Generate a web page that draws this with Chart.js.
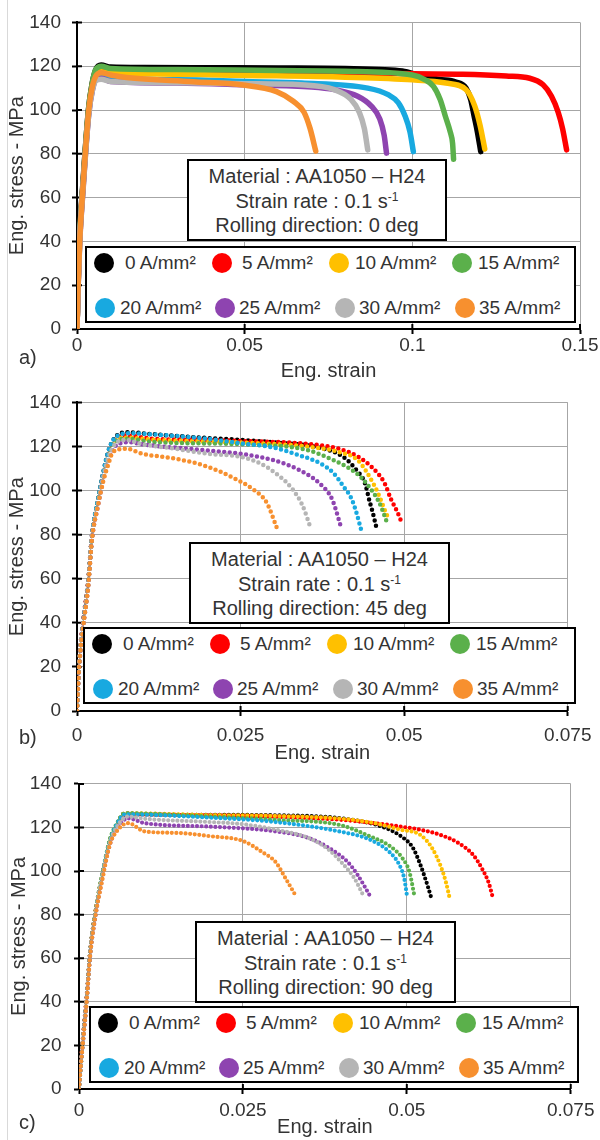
<!DOCTYPE html>
<html><head><meta charset="utf-8">
<script src="https://cdn.jsdelivr.net/npm/chart.js@4.4.1/dist/chart.umd.min.js"></script>
<style>
html,body{margin:0;padding:0;background:#fff;}
body{width:600px;height:1140px;position:relative;overflow:hidden;font-family:"Liberation Sans",Arial,sans-serif;color:#333;}
canvas{position:absolute;left:0;}
.frame{position:absolute;left:7px;top:0;width:1px;height:1140px;background:#d9d9d9;}
.note{position:absolute;box-sizing:border-box;border:2px solid #000;background:#fff;text-align:center;font-size:20px;line-height:24.5px;padding-top:3px;white-space:nowrap;}
.note sup{font-size:12px;line-height:0;vertical-align:0.6em;}
.leg{position:absolute;box-sizing:border-box;border:2px solid #000;background:#fff;font-size:19px;}
.leg .dot{position:absolute;width:20px;height:20px;border-radius:50%;}
.leg .lbl{position:absolute;line-height:20px;white-space:nowrap;}
.tag{position:absolute;font-size:20px;line-height:20px;}
</style></head>
<body>
<div class="frame"></div>
<canvas id="ca" width="600" height="385" style="top:0px"></canvas>
<canvas id="cb" width="600" height="385" style="top:380px"></canvas>
<canvas id="cc" width="600" height="380" style="top:760px"></canvas>
<script>
// ---------- labels ----------
const seriesLabels = ['0 A/mm²','5 A/mm²','10 A/mm²','15 A/mm²','20 A/mm²','25 A/mm²','30 A/mm²','35 A/mm²'];
const stressTicks = ['0','20','40','60','80','100','120','140'];
const strainTicksA = ['0','0.05','0.1','0.15'];
const strainTicksBC = ['0','0.025','0.05','0.075'];
const panelTags = ['a)','b)','c)'];
const noteMaterial = 'Material : AA1050 – H24';
const noteRate = 'Strain rate : 0.1 s';
const noteRateSup = '-1';
const noteDirections = ['Rolling direction: 0 deg','Rolling direction: 45 deg','Rolling direction: 90 deg'];
const xTitle = 'Eng. strain';
const yTitle = 'Eng. stress - MPa';

// ---------- panel a) rolling direction 0 deg : [strain, stress MPa] ----------
const a0 = [[0,0],[0.0003,20],[0.0007,41],[0.0016,63],[0.0034,100],[0.0045,112],[0.0056,118.5],[0.0072,120.5],[0.01,119.6],[0.02,119.4],[0.04,119.3],[0.06,119.2],[0.08,119],[0.09,118.5],[0.097,117.8],[0.103,115.5],[0.108,114],[0.113,112.8],[0.116,110],[0.1174,104.8],[0.1184,97.4],[0.1194,90],[0.1204,81]];
const a1 = [[0,0],[0.0003,19],[0.0008,42],[0.0017,64],[0.0035,100],[0.0046,112],[0.0057,117.5],[0.0072,118.5],[0.01,118],[0.03,117.5],[0.06,117.2],[0.09,116.8],[0.1,116.5],[0.115,116.3],[0.128,115.5],[0.135,114.5],[0.139,111.5],[0.1415,106.3],[0.1435,98.9],[0.1448,91.5],[0.146,81.8]];
const a2 = [[0,0],[0.0003,18],[0.0008,40],[0.0017,62],[0.0035,99],[0.0046,111],[0.0057,116.5],[0.0072,117.5],[0.01,117],[0.03,116.3],[0.05,115.8],[0.08,115],[0.1,113.8],[0.11,112.3],[0.116,109.3],[0.1186,101.9],[0.1202,93],[0.1216,82.2]];
const a3 = [[0,0],[0.0003,20],[0.0007,40],[0.0016,62],[0.0034,100],[0.0045,112],[0.0056,118.5],[0.0073,120],[0.01,119],[0.03,118.5],[0.06,118],[0.08,117.7],[0.1,116],[0.1038,113.8],[0.1063,110.8],[0.1083,104.8],[0.1098,97.4],[0.1113,90],[0.112,84.8],[0.1123,77.5]];
const a4 = [[0,0],[0.0003,19],[0.0008,41],[0.0017,63],[0.0035,99],[0.0046,110],[0.0057,115],[0.0072,116],[0.01,114.5],[0.03,113.8],[0.05,113],[0.067,112.3],[0.0867,110],[0.0928,107],[0.0958,103.4],[0.0978,97.4],[0.0993,90],[0.1003,81]];
const a5 = [[0,0],[0.0003,17],[0.0008,39],[0.0017,61],[0.0035,98],[0.0046,109],[0.0057,114],[0.0072,114.5],[0.01,113],[0.03,112.3],[0.05,111.5],[0.07,110.5],[0.0767,109.3],[0.0837,106.3],[0.0877,101.9],[0.0903,95.9],[0.0916,88.5],[0.0923,80.3]];
const a6 = [[0,0],[0.0003,18],[0.0008,40],[0.0017,62],[0.0035,98],[0.0046,109],[0.0057,113.5],[0.0072,114],[0.01,113],[0.03,112.4],[0.05,112],[0.0667,111.5],[0.0767,109.3],[0.0817,104.8],[0.0842,98.9],[0.0857,91.5],[0.0867,81.8]];
const a7 = [[0,0],[0.0003,19],[0.0008,40],[0.0017,63],[0.0035,100],[0.0046,111],[0.0056,115.5],[0.0072,117],[0.01,116],[0.0148,114.8],[0.0347,112.9],[0.0496,111.4],[0.0595,108.4],[0.0645,104],[0.0677,99],[0.0695,91.6],[0.0712,81.2]];

// ---------- panel b) rolling direction 45 deg ----------
const b0 = [[0,0],[0.0003,20],[0.0009,39],[0.0017,58],[0.0023,80],[0.0032,96],[0.004,108],[0.0048,118],[0.0058,124],[0.0075,126.5],[0.0115,125.6],[0.019,124],[0.025,123],[0.0316,121.5],[0.0367,119.7],[0.0407,115.3],[0.0427,109.3],[0.044,103.4],[0.0447,95.3],[0.0452,90],[0.0458,82.7]];
const b1 = [[0,0],[0.0003,21],[0.0009,40],[0.0017,59],[0.0023,80],[0.0032,95],[0.004,107],[0.0048,117],[0.0058,123],[0.0075,125],[0.0115,123.5],[0.019,123],[0.025,122.5],[0.035,121.2],[0.04,119],[0.043,115.3],[0.045,110.8],[0.047,103.4],[0.048,96],[0.049,90],[0.0495,86.4]];
const b2 = [[0,0],[0.0003,19],[0.0009,38],[0.0017,57],[0.0023,79],[0.0032,95],[0.004,107],[0.0048,117],[0.0058,122.5],[0.0075,124],[0.012,123],[0.025,121.8],[0.035,120],[0.04,117.5],[0.043,113.5],[0.0455,102],[0.0462,97.5],[0.0472,90],[0.0476,87.5]];
const b3 = [[0,0],[0.0003,20],[0.0009,38],[0.0017,58],[0.0023,79],[0.0032,95],[0.004,106],[0.0048,116],[0.0058,122],[0.0075,123.5],[0.012,122],[0.025,121],[0.035,118.5],[0.0392,113.8],[0.0427,107.9],[0.0442,103.4],[0.0462,94.5],[0.0475,84.6]];
const b4 = [[0,0],[0.0003,20],[0.0009,39],[0.0017,58],[0.0023,80],[0.0032,96],[0.004,108],[0.0048,118],[0.0058,124],[0.008,126],[0.0115,125.5],[0.02,123.5],[0.025,121.5],[0.03,119.5],[0.034,116],[0.0372,112.3],[0.0392,107.9],[0.0407,102],[0.042,96],[0.0427,90],[0.0434,82.5]];
const b5 = [[0,0],[0.0003,18],[0.0009,37],[0.0017,56],[0.0023,78],[0.0032,93],[0.004,105],[0.0048,114],[0.0058,120],[0.008,122],[0.01,121],[0.02,118.2],[0.025,116.7],[0.03,113.8],[0.034,109.3],[0.037,103.4],[0.039,96],[0.0403,84]];
const b6 = [[0,0],[0.0003,19],[0.0009,38],[0.0017,57],[0.0023,79],[0.0032,94],[0.004,106],[0.0048,115],[0.0058,121],[0.0075,123],[0.01,121],[0.015,119],[0.02,116.7],[0.025,115.3],[0.028,112.3],[0.031,106.4],[0.033,100.4],[0.0345,93],[0.0356,84]];
const b7 = [[0,0],[0.0003,19],[0.0009,37],[0.0017,56],[0.0023,78],[0.0032,93],[0.004,104],[0.0048,112],[0.0055,117.5],[0.0075,119],[0.01,116.7],[0.015,114.5],[0.02,110.8],[0.024,105.6],[0.027,100.4],[0.029,94.5],[0.0305,83.4]];

// ---------- panel c) rolling direction 90 deg ----------
const c0 = [[0,0],[0.0003,12],[0.0006,23],[0.0012,43],[0.0017,63],[0.0026,83],[0.0035,97.5],[0.0047,114],[0.0057,121],[0.007,126.5],[0.01,126],[0.02,125.8],[0.03,125.6],[0.04,124.2],[0.0462,120.4],[0.0491,116],[0.0509,110.8],[0.052,103.4],[0.0532,93],[0.0538,87]];
const c1 = [[0,0],[0.0003,13],[0.0006,24],[0.0012,44],[0.0017,63],[0.0026,83],[0.0035,97],[0.0047,113.5],[0.0057,120.5],[0.0075,126],[0.02,125.5],[0.03,125],[0.04,123.5],[0.045,122],[0.0491,120.4],[0.052,119],[0.055,116.7],[0.0578,113],[0.0602,107.1],[0.0616,100.4],[0.0625,94.5],[0.0631,88]];
const c2 = [[0,0],[0.0003,12],[0.0006,22],[0.0012,42],[0.0017,62],[0.0026,83],[0.0035,97.5],[0.0047,114],[0.0057,121],[0.007,126.5],[0.02,125.7],[0.03,125.3],[0.04,124],[0.045,122],[0.049,119],[0.052,116.7],[0.0538,110.8],[0.0552,102],[0.056,94.5],[0.0565,88]];
const c3 = [[0,0],[0.0003,12],[0.0006,23],[0.0012,43],[0.0017,63],[0.0026,83],[0.0035,98],[0.0047,114.5],[0.0057,121.5],[0.007,126.5],[0.02,125],[0.03,123.5],[0.04,121],[0.0443,116],[0.0474,111.5],[0.0494,105.6],[0.0504,99.6],[0.0512,88]];
const c4 = [[0,0],[0.0003,11],[0.0006,22],[0.0012,42],[0.0017,62],[0.0026,82],[0.0035,97],[0.0047,113.5],[0.0057,121],[0.007,126],[0.02,124.5],[0.03,122.5],[0.04,118],[0.0443,114.5],[0.0474,108.6],[0.0489,102.6],[0.0496,96.7],[0.05,89.2]];
const c5 = [[0,0],[0.0003,12],[0.0006,21],[0.0012,41],[0.0017,61],[0.0026,81],[0.0035,96],[0.0047,112],[0.0057,119],[0.0075,124.2],[0.01,122],[0.02,120.4],[0.03,118.2],[0.035,115.2],[0.038,110.8],[0.041,104.1],[0.0425,98.2],[0.0445,88]];
const c6 = [[0,0],[0.0003,12],[0.0006,22],[0.0012,42],[0.0017,62],[0.0026,82],[0.0035,97],[0.0047,113],[0.0057,120],[0.0075,125],[0.01,124],[0.02,122.5],[0.025,121.5],[0.03,119],[0.035,115.2],[0.038,110],[0.04,104.1],[0.042,96.7],[0.0433,89.2]];
const c7 = [[0,0],[0.0003,11],[0.0006,21],[0.0012,41],[0.0017,61],[0.0026,81],[0.0035,95],[0.0047,112],[0.0057,118],[0.0075,122],[0.01,118.2],[0.015,117.5],[0.02,116],[0.025,113.8],[0.028,108.6],[0.03,104.1],[0.0315,96.7],[0.033,89]];

// ---------- styling (not data) ----------
const colors = ['#000000','#FF0000','#FFC000','#5BB04B','#18A9E0','#8E44B0','#B5B5B5','#F7902F'];
Chart.defaults.font.family = '"Liberation Sans", Arial, sans-serif';
Chart.defaults.color = '#333';

const innerTicks = {
  id: 'innerTicks',
  beforeDatasetsDraw(chart) {
    const {ctx, chartArea: a, scales: {x, y}} = chart;
    ctx.save();
    ctx.strokeStyle = '#000';
    ctx.lineWidth = 2;
    ctx.beginPath();
    x.ticks.forEach(t => { const p = x.getPixelForValue(t.value); ctx.moveTo(p, a.bottom); ctx.lineTo(p, a.bottom - 5); });
    y.ticks.forEach(t => { const p = y.getPixelForValue(t.value); ctx.moveTo(a.left, p); ctx.lineTo(a.left + 5, p); });
    ctx.stroke();
    ctx.restore();
  }
};

const panels = [
  {id:'ca', top:0,   h:385, L:77, R:580, T:14, B:329, xMax:0.15,  xStep:0.05,  xLabels:strainTicksA,  xTickPad:0,   xTitlePad:4, yTitlePad:7, yTickPad:11,
   series:[a0,a1,a2,a3,a4,a5,a6,a7], lw:5.5, dash:[],
   tag:{l:19,t:347}, note:{l:187,t:159,w:260,h:82}, leg:{l:85,t:246,w:491,h:77}},
  {id:'cb', top:380, h:385, L:77, R:576, T:14, B:331, xMax:0.075, xStep:0.025, xLabels:strainTicksBC, xTickPad:8.5, xTitlePad:2, yTitlePad:7, yTickPad:11,
   series:[b0,b1,b2,b3,b4,b5,b6,b7], lw:4.5, dash:[0,5.5],
   tag:{l:19,t:727}, note:{l:189,t:542,w:261,h:82}, leg:{l:83,t:627,w:493,h:77}},
  {id:'cc', top:760, h:380, L:79, R:575, T:14, B:329, xMax:0.075, xStep:0.025, xLabels:strainTicksBC, xTickPad:5.5, xTitlePad:3, yTitlePad:9, yTickPad:12.5,
   series:[c0,c1,c2,c3,c4,c5,c6,c7], lw:4.2, dash:[0,4.6],
   tag:{l:19,t:1112}, note:{l:195,t:921,w:261,h:82}, leg:{l:89,t:1006,w:490,h:77}}
];

// legend item offsets inside the legend box (px from box edge)
const legDotX = [[19,137,254,377],[20,140,260,380]];
const legTxtX = [[40,157,270,393],[35,154,274,394]];
const legRowY = [16.5, 62];

panels.forEach((P, pi) => {
  new Chart(document.getElementById(P.id), {
    type: 'scatter',
    data: {
      datasets: P.series.map((s, i) => ({
        label: seriesLabels[i],
        data: s.map(p => ({x: p[0], y: p[1]})),
        showLine: true,
        borderColor: colors[i],
        backgroundColor: colors[i],
        borderWidth: P.lw,
        borderDash: P.dash,
        borderCapStyle: 'round',
        borderJoinStyle: 'round',
        cubicInterpolationMode: 'monotone',
        pointRadius: 0,
        order: 7 - i
      }))
    },
    options: {
      responsive: false, animation: false, devicePixelRatio: 1,
      layout: {padding: {left: 0, right: 600 - P.R, top: P.T, bottom: 0}},
      plugins: {legend: {display: false}, tooltip: {enabled: false}},
      scales: {
        x: {
          type: 'linear', min: 0, max: P.xMax,
          afterFit(s) { s.height = P.h - P.B; },
          ticks: {stepSize: P.xStep, padding: P.xTickPad, color: '#333', font: {size: 19}, maxRotation: 0, autoSkip: false,
                  callback: (v, i) => P.xLabels[i]},
          grid: {color: '#a6a6a6', lineWidth: 1, tickLength: 5, tickColor: '#000', tickWidth: 2},
          border: {color: '#000', width: 2},
          title: {display: true, text: xTitle, color: '#333', font: {size: 20, lineHeight: 1}, padding: {top: 0, bottom: P.xTitlePad}}
        },
        y: {
          type: 'linear', min: 0, max: 140,
          afterFit(s) { s.width = P.L; },
          ticks: {stepSize: 20, padding: P.yTickPad, color: '#333', font: {size: 19}, callback: (v, i) => stressTicks[i]},
          grid: {color: '#a6a6a6', lineWidth: 1, tickLength: 5, tickColor: '#000', tickWidth: 2},
          border: {color: '#000', width: 2},
          title: {display: true, text: yTitle, color: '#333', font: {size: 20, lineHeight: 1}, padding: {top: P.yTitlePad, bottom: 0}}
        }
      }
    },
    plugins: [innerTicks]
  });

  // panel tag
  const tag = document.createElement('div');
  tag.className = 'tag';
  tag.style.left = P.tag.l + 'px'; tag.style.top = P.tag.t + 'px';
  tag.textContent = panelTags[pi];
  document.body.appendChild(tag);

  // annotation box
  const note = document.createElement('div');
  note.className = 'note';
  Object.assign(note.style, {left: P.note.l + 'px', top: P.note.t + 'px', width: P.note.w + 'px', height: P.note.h + 'px'});
  const l1 = document.createElement('div'); l1.textContent = noteMaterial;
  const l2 = document.createElement('div'); l2.appendChild(document.createTextNode(noteRate));
  const sup = document.createElement('sup'); sup.textContent = noteRateSup; l2.appendChild(sup);
  const l3 = document.createElement('div'); l3.textContent = noteDirections[pi];
  note.append(l1, l2, l3);
  document.body.appendChild(note);

  // legend box
  const leg = document.createElement('div');
  leg.className = 'leg';
  Object.assign(leg.style, {left: P.leg.l + 'px', top: P.leg.t + 'px', width: P.leg.w + 'px', height: P.leg.h + 'px'});
  seriesLabels.forEach((lab, i) => {
    const r = Math.floor(i / 4), c = i % 4;
    const d = document.createElement('div');
    d.className = 'dot';
    d.style.background = colors[i];
    d.style.left = (legDotX[r][c] - 2 - 10) + 'px';
    d.style.top = (legRowY[r] - 2 - 10) + 'px';
    const t = document.createElement('div');
    t.className = 'lbl';
    t.textContent = lab;
    t.style.left = (legTxtX[r][c] - 2) + 'px';
    t.style.top = (legRowY[r] - 2 - 10) + 'px';
    leg.append(d, t);
  });
  document.body.appendChild(leg);
});
</script>
</body></html>
